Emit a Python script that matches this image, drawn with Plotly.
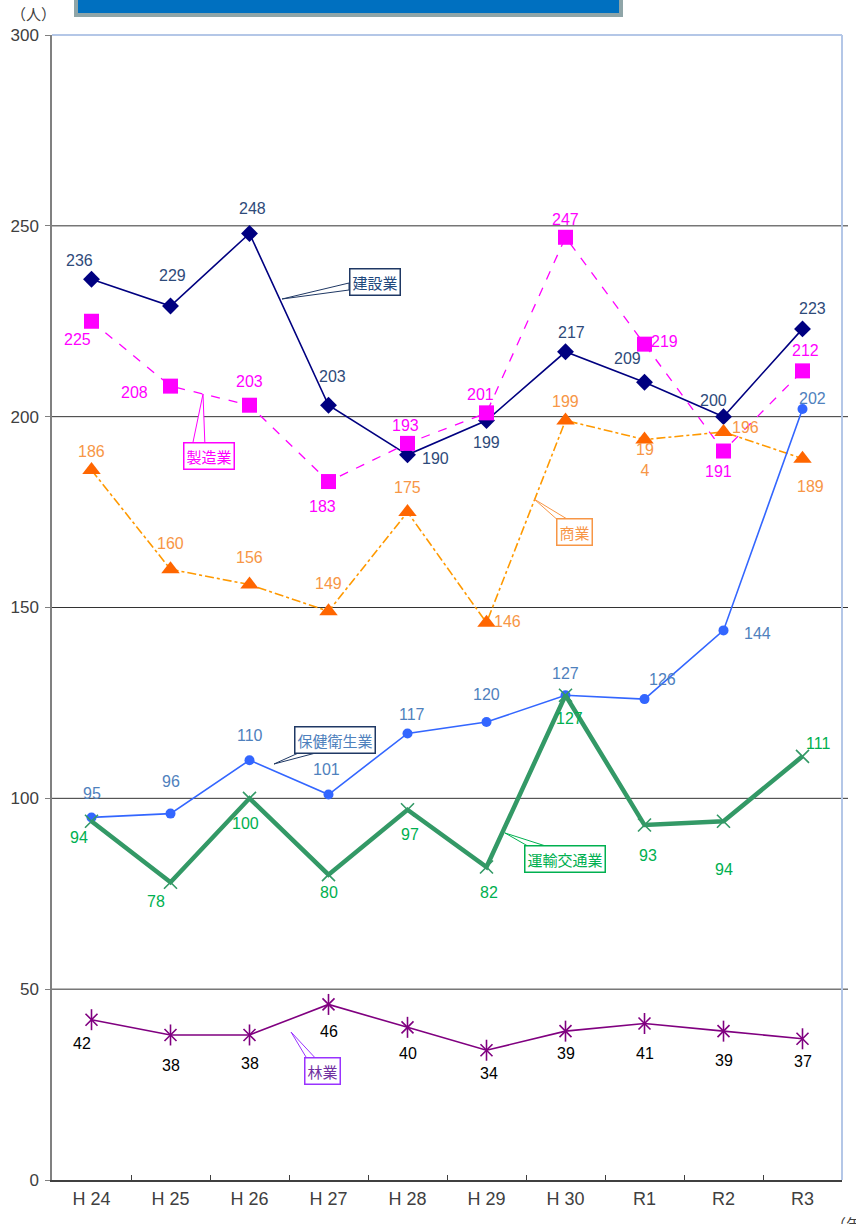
import plotly.graph_objects as go

# ---------------- data ----------------
years = ["H 24", "H 25", "H 26", "H 27", "H 28", "H 29", "H 30", "R1", "R2", "R3"]
kensetsu = [236, 229, 248, 203, 190, 199, 217, 209, 200, 223]   # 建設業
seizo = [225, 208, 203, 183, 193, 201, 247, 219, 191, 212]      # 製造業
shogyo = [186, 160, 156, 149, 175, 146, 199, 194, 196, 189]     # 商業
hoken = [95, 96, 110, 101, 117, 120, 127, 126, 144, 202]        # 保健衛生業
unyu = [94, 78, 100, 80, 97, 82, 127, 93, 94, 111]              # 運輸交通業
ringyo = [42, 38, 38, 46, 40, 34, 39, 41, 39, 37]               # 林業
y_ticks = [0, 50, 100, 150, 200, 250, 300]

# ---------------- label offsets (px: right, up) ----------------
off_kensetsu = [(-12, 19), (2, 30), (3, 25), (4, 29), (28, -4), (0, -22), (6, 19), (-17, 24), (-10, 16), (10, 20)]
off_seizo = [(-14, -18), (-36, -6), (0, 24), (-6, -25), (-2, 18), (-6, 18), (0, 18), (20, 3), (-5, -20), (3, 20)]
off_shogyo = [(0, 19), (0, 26), (0, 27), (0, 28), (0, 25), (21, 1), (0, 19), (0, -20), (22, 4), (8, -28)]
off_hoken = [(0, 24), (0, 32), (0, 25), (-2, 25), (4, 19), (0, 28), (0, 22), (18, 20), (34, -3), (10, 11)]
off_unyu = [(-13, -16), (-15, -19), (-4, -25), (0, -18), (2, -25), (2, -25), (4, -23), (3, -30), (0, -48), (15, 13)]
off_ringyo = [(-10, -24), (0, -31), (0, -29), (0, -27), (0, -26), (2, -23), (0, -22), (0, -30), (0, -29), (0, -23)]

W, H = 856, 1224
L, R, T, B = 52, 842, 35, 1180


def X(px):
    return (px - L) / (R - L)


def Y(py):
    return (B - py) / (B - T)


NUMFONT = "Liberation Sans, Arial, sans-serif"
TICKFONT = "Liberation Sans Narrow, Liberation Sans, Arial, sans-serif"
JPFONT = "Noto Sans CJK JP, sans-serif"

fig = go.Figure()

series = [
    dict(name="建設業", y=kensetsu, line=dict(color="#000080", width=1.6),
         marker=dict(symbol="diamond", size=13, color="#000080"), lab="#2E4A7A", off=off_kensetsu),
    dict(name="製造業", y=seizo, line=dict(color="#FF00FF", width=1.3, dash="dash"),
         marker=dict(symbol="square", size=15, color="#FF00FF"), lab="#FF00FF", off=off_seizo),
    dict(name="商業", y=shogyo, line=dict(color="#FF9900", width=1.6, dash="dashdot"),
         marker=dict(symbol="triangle-up", size=16, color="#FF6600"), lab="#F79646", off=off_shogyo),
    dict(name="保健衛生業", y=hoken, line=dict(color="#3366FF", width=1.6),
         marker=dict(symbol="circle", size=10, color="#3366FF"), lab="#4F81BD", off=off_hoken),
    dict(name="運輸交通業", y=unyu, line=dict(color="#339966", width=4.5),
         marker=dict(symbol="x-thin-open", size=13, color="#339966", line=dict(width=1.6, color="#339966")),
         lab="#00B050", off=off_unyu),
    dict(name="林業", y=ringyo, line=dict(color="#800080", width=1.6),
         marker=dict(symbol="x-thin-open", size=12, color="#800080", line=dict(width=1.6, color="#800080")),
         lab="#000000", off=off_ringyo),
]

for s in series:
    fig.add_trace(go.Scatter(x=years, y=s["y"], mode="lines+markers", name=s["name"],
                             line=s["line"], marker=s["marker"], showlegend=False,
                             hoverinfo="skip"))

# vertical stroke for 林業 asterisk markers
fig.add_trace(go.Scatter(x=years, y=ringyo, mode="markers", showlegend=False, hoverinfo="skip",
                         marker=dict(symbol="line-ns-open", size=15, color="#800080",
                                     line=dict(width=1.6, color="#800080"))))

annotations = []
for s in series:
    for i, v in enumerate(s["y"]):
        dx, dy = s["off"][i]
        txt = str(v)
        if s["name"] == "商業" and v == 194:
            txt = "19<br>4"
        annotations.append(dict(x=years[i], y=v, xref="x", yref="y", text=txt, showarrow=False,
                                xshift=dx, yshift=dy,
                                font=dict(family=NUMFONT, size=16, color=s["lab"])))

# callouts: (text, center px, tip px, base pts px, border color, text color)
callouts = [
    ("建設業", (375, 281.5), (282, 299), [(349, 283), (349, 290)], "#1F3864", "#1F497D"),
    ("製造業", (208.5, 456.5), (203, 394), [(192, 447), (205, 447)], "#FF00FF", "#FF00FF"),
    ("商業", (574, 531.5), (534, 499), [(560, 522), (572, 522)], "#F79646", "#F79646"),
    ("保健衛生業", (335, 739.5), (274, 764), [(305, 750), (327, 750)], "#1F3864", "#4F81BD"),
    ("運輸交通業", (565, 859), (505, 833), [(533, 849), (555, 849)], "#00B050", "#00B050"),
    ("林業", (322.5, 1071), (291, 1032), [(309, 1062), (319, 1062)], "#9933FF", "#7030A0"),
]

shapes = []
# gridlines
for g in y_ticks[1:-1]:
    shapes.append(dict(type="line", xref="paper", yref="y", x0=0, x1=X(848), y0=g, y1=g,
                       line=dict(color="#333333", width=1), layer="below"))
# frame top/right
shapes.append(dict(type="line", xref="paper", yref="paper", x0=0, x1=1, y0=1, y1=1,
                   line=dict(color="#B4C7E7", width=2)))
shapes.append(dict(type="line", xref="paper", yref="paper", x0=1, x1=1, y0=0, y1=1,
                   line=dict(color="#B4C7E7", width=2)))

for txt, c, tip, base, bc, tc in callouts:
    (b1x, b1y), (b2x, b2y) = base
    path = f"M {X(tip[0])},{Y(tip[1])} L {X(b1x)},{Y(b1y)} L {X(b2x)},{Y(b2y)} Z"
    shapes.append(dict(type="path", xref="paper", yref="paper", path=path,
                       line=dict(color=bc, width=1), fillcolor="white", layer="above"))
    annotations.append(dict(x=X(c[0]), y=Y(c[1]), xref="paper", yref="paper", text=txt,
                            showarrow=False, xanchor="center", yanchor="middle",
                            bgcolor="white", bordercolor=bc, borderwidth=1.5, borderpad=2,
                            font=dict(family=JPFONT, size=15, color=tc)))

# header box (cut off at top)
shapes.append(dict(type="rect", xref="paper", yref="paper", x0=X(76), x1=X(621), y0=Y(15), y1=Y(-10),
                   fillcolor="#0070C0", line=dict(color="#8FA5A8", width=4), layer="above"))

annotations.append(dict(x=X(33), y=Y(14), xref="paper", yref="paper", text="（人）", showarrow=False,
                        xanchor="center", yanchor="middle",
                        font=dict(family=JPFONT, size=15, color="#404040")))
annotations.append(dict(x=X(829), y=Y(1211), xref="paper", yref="paper", text="（年）", showarrow=False,
                        xanchor="left", yanchor="top",
                        font=dict(family=JPFONT, size=15, color="#404040")))

fig.update_layout(
    width=W, height=H, autosize=False,
    margin=dict(l=L, r=W - R, t=T, b=H - B, pad=0),
    paper_bgcolor="white", plot_bgcolor="white",
    shapes=shapes, annotations=annotations,
    xaxis=dict(type="category", categoryorder="array", categoryarray=years,
               range=[-0.5, 9.5], showgrid=False, zeroline=False, automargin=False,
               showline=True, linecolor="#404040", linewidth=1.5,
               ticks="inside", tickson="boundaries", ticklen=5, tickcolor="#404040",
               ticklabelstandoff=2,
               tickfont=dict(family=TICKFONT, size=18, color="#404040")),
    yaxis=dict(range=[0, 300], tickvals=y_ticks, showgrid=False, zeroline=False, automargin=False,
               showline=True, linecolor="#808080", linewidth=1.5,
               ticks="outside", ticklen=5, tickcolor="#808080",
               ticklabelstandoff=3,
               tickfont=dict(family=TICKFONT, size=17, color="#404040")),
)

fig.write_html("out.html")
